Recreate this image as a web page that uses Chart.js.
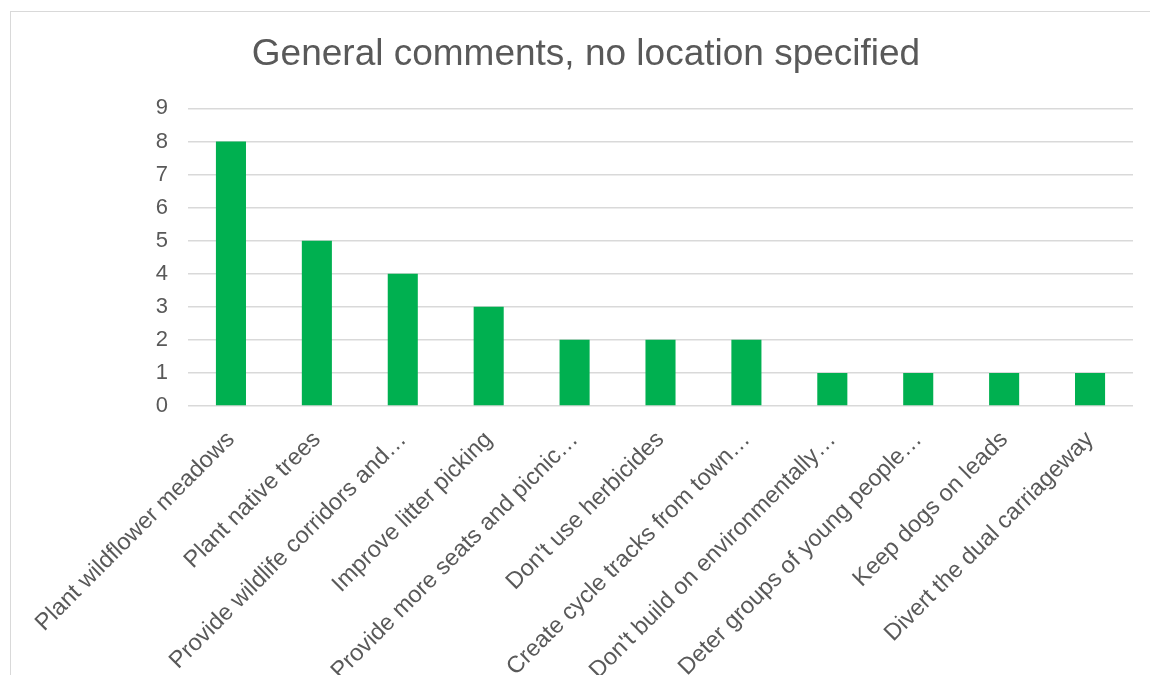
<!DOCTYPE html>
<html>
<head>
<meta charset="utf-8">
<title>General comments, no location specified</title>
<script src="https://cdn.jsdelivr.net/npm/chart.js@4/dist/chart.umd.min.js"></script>
<style>
  body { margin: 0; background: #fff; overflow: hidden; }
  #frame {
    position: absolute; left: 10px; top: 11px;
    width: 1160px; height: 720px;
    border: 1px solid #d9d9d9; background: #fff;
  }
  canvas { display: block; }
</style>
</head>
<body>
<div id="frame"><canvas id="commentsChart" width="1150" height="700"></canvas></div>
<script>
// comment counts per suggestion
const categories = [
  'Plant wildflower meadows',
  'Plant native trees',
  'Provide wildlife corridors and\u2026',
  'Improve litter picking',
  'Provide more seats and picnic\u2026',
  "Don't use herbicides",
  'Create cycle tracks from town\u2026',
  "Don't build on environmentally\u2026",
  'Deter groups of young people\u2026',
  'Keep dogs on leads',
  'Divert the dual carriageway'
];
const counts = [8, 5, 4, 3, 2, 2, 2, 1, 1, 1, 1];
const yTicks = [0, 1, 2, 3, 4, 5, 6, 7, 8, 9];

const textColor = '#595959';
const gridColor = '#d9d9d9';
const fontFamily = '"Liberation Sans", Arial, sans-serif';

const ctx = document.getElementById('commentsChart').getContext('2d');
new Chart(ctx, {
    type: 'bar',
    data: {
        labels: categories,
        datasets: [{
            data: counts,
            backgroundColor: '#00b050',
            barPercentage: 0.35,
            categoryPercentage: 1.0
        }]
    },
    options: {
        responsive: false,
        animation: false,
        // equal side padding keeps the title centred on the frame
        layout: { padding: { left: 28, right: 28, top: 0, bottom: 0 } },
        plugins: {
            legend: { display: false },
            tooltip: { enabled: false },
            title: {
                display: true,
                text: 'General comments, no location specified',
                color: textColor,
                font: { family: fontFamily, size: 37, weight: 'normal' },
                padding: { top: 21, bottom: 31 }
            }
        },
        scales: {
            x: {
                grid: { display: false },
                border: { display: false },
                ticks: {
                    color: textColor,
                    font: { family: fontFamily, size: 23.5 },
                    minRotation: 45,
                    maxRotation: 45,
                    autoSkip: false,
                    padding: 12
                },
                afterFit: (scale) => { scale.height = 306; }
            },
            y: {
                min: 0,
                max: 9,
                afterBuildTicks: (scale) => {
                    scale.ticks = yTicks.map(v => ({ value: v }));
                },
                grid: { color: gridColor, lineWidth: 1.5, drawTicks: false },
                border: { display: false },
                ticks: {
                    color: textColor,
                    font: { family: fontFamily, size: 22 },
                    padding: 20
                },
                afterFit: (scale) => { scale.width = 149; }
            }
        }
    }
});
</script>
</body>
</html>
